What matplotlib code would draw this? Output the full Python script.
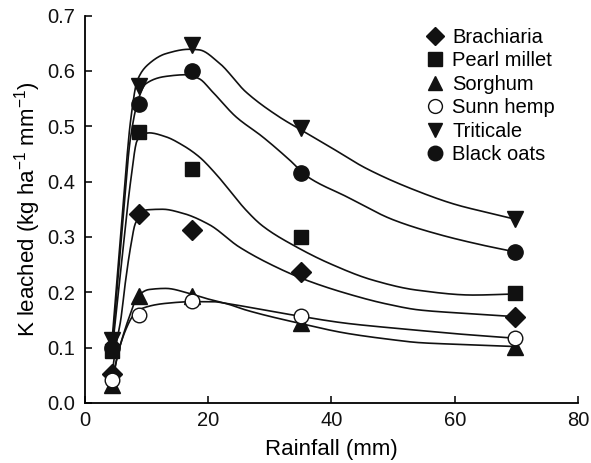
import numpy as np
import matplotlib
matplotlib.use('Agg')
import matplotlib.pyplot as plt
from matplotlib.ticker import FormatStrFormatter

plt.rcParams['font.family'] = ['Liberation Sans', 'DejaVu Sans']
plt.rcParams['mathtext.default'] = 'regular'

# measured points
rain = [4.4, 8.7, 17.3, 35.0, 69.8]
names = ['Brachiaria', 'Pearl millet', 'Sorghum', 'Sunn hemp', 'Triticale', 'Black oats']
brachiaria = [0.052, 0.342, 0.312, 0.236, 0.156]
pearl_millet = [0.094, 0.489, 0.422, 0.300, 0.198]
sorghum = [0.033, 0.193, 0.193, 0.145, 0.102]
sunn_hemp = [0.042, 0.159, 0.184, 0.157, 0.117]
triticale = [0.114, 0.573, 0.647, 0.496, 0.333]
black_oats = [0.100, 0.541, 0.600, 0.415, 0.273]

# fitted curves
brachiaria_cx = [4.4, 5.0, 5.8, 6.6, 7.4, 8.2, 10.1, 12.6, 15.8, 20.2, 25.0, 31.5, 35.9, 42.4, 48.9, 54.3, 63.0, 69.8]
brachiaria_cy = [0.052, 0.102, 0.150, 0.222, 0.282, 0.325, 0.349, 0.350, 0.343, 0.322, 0.282, 0.243, 0.222, 0.198, 0.179, 0.168, 0.161, 0.156]
pearl_cx = [4.4, 6.0, 7.4, 8.5, 10.4, 13.1, 15.8, 18.5, 21.3, 23.4, 26.0, 28.8, 34.3, 39.7, 46.7, 53.8, 63.0, 69.8]
pearl_cy = [0.094, 0.26, 0.40, 0.475, 0.488, 0.481, 0.466, 0.445, 0.413, 0.385, 0.350, 0.320, 0.282, 0.252, 0.222, 0.204, 0.195, 0.197]
sorghum_cx = [4.4, 5.25, 6.3, 7.4, 8.5, 10.4, 13.1, 16.9, 19.6, 23.4, 26.1, 34.8, 42.4, 49.4, 54.3, 60.3, 69.8]
sorghum_cy = [0.033, 0.084, 0.126, 0.162, 0.192, 0.205, 0.207, 0.198, 0.189, 0.178, 0.168, 0.144, 0.126, 0.115, 0.109, 0.106, 0.102]
sunn_cx = [4.4, 5.5, 6.6, 7.7, 9.3, 13.1, 17.4, 20.7, 23.4, 26.1, 33.7, 42.4, 49.4, 54.3, 60.3, 69.8]
sunn_cy = [0.042, 0.096, 0.132, 0.156, 0.171, 0.180, 0.183, 0.183, 0.179, 0.174, 0.159, 0.144, 0.136, 0.131, 0.125, 0.117]
triticale_cx = [4.4, 6.0, 7.4, 8.5, 10.4, 13.1, 16.9, 18.5, 21.8, 26.1, 31.5, 35.1, 39.7, 45.6, 53.2, 60.3, 65.7, 69.8]
triticale_cy = [0.114, 0.33, 0.51, 0.583, 0.613, 0.631, 0.639, 0.638, 0.614, 0.562, 0.517, 0.493, 0.463, 0.424, 0.386, 0.358, 0.343, 0.332]
oats_cx = [4.4, 6.0, 7.4, 8.7, 9.9, 13.1, 16.4, 18.5, 20.7, 24.5, 28.8, 33.2, 36.1, 42.4, 50.0, 57.6, 64.6, 69.8]
oats_cy = [0.100, 0.31, 0.48, 0.55, 0.577, 0.590, 0.593, 0.586, 0.562, 0.517, 0.481, 0.439, 0.409, 0.373, 0.331, 0.304, 0.285, 0.273]


def pchip(x, y, xs):
    # monotone cubic (Fritsch-Carlson) so the curve doesn't overshoot
    x = np.asarray(x, float)
    y = np.asarray(y, float)
    h = np.diff(x)
    d = np.diff(y) / h
    m = np.zeros_like(y)
    for k in range(1, len(x) - 1):
        if d[k - 1] * d[k] > 0:
            w1 = 2 * h[k] + h[k - 1]
            w2 = h[k] + 2 * h[k - 1]
            m[k] = (w1 + w2) / (w1 / d[k - 1] + w2 / d[k])
    m[0] = d[0]
    m[-1] = d[-1]
    idx = np.clip(np.searchsorted(x, xs) - 1, 0, len(h) - 1)
    t = (xs - x[idx]) / h[idx]
    h00 = 2 * t**3 - 3 * t**2 + 1
    h10 = t**3 - 2 * t**2 + t
    h01 = -2 * t**3 + 3 * t**2
    h11 = t**3 - t**2
    return h00 * y[idx] + h10 * h[idx] * m[idx] + h01 * y[idx + 1] + h11 * h[idx] * m[idx + 1]


fig = plt.figure(figsize=(5.91, 4.63), dpi=100)
ax = fig.add_axes([0.1438, 0.1296, 0.8342, 0.8369])

curves = [(brachiaria_cx, brachiaria_cy), (pearl_cx, pearl_cy), (sorghum_cx, sorghum_cy),
          (sunn_cx, sunn_cy), (triticale_cx, triticale_cy), (oats_cx, oats_cy)]
for cx, cy in curves:
    xs = np.linspace(cx[0], cx[-1], 400)
    ax.plot(xs, pchip(cx, cy, xs), color='#111111', lw=1.2, zorder=2)

series = [brachiaria, pearl_millet, sorghum, sunn_hemp, triticale, black_oats]
markers = ['D', 's', '^', 'o', 'v', 'o']
sizes = [10, 10.5, 11, 10.5, 11, 11]
faces = ['#111111', '#111111', '#111111', 'white', '#111111', '#111111']
handles = []
for vals, name, mk, ms, fc in zip(series, names, markers, sizes, faces):
    h, = ax.plot(rain, vals, linestyle='none', marker=mk, ms=ms, mfc=fc,
                 mec='#111111', mew=1.0, label=name, zorder=3)
    handles.append(h)

ax.set_xlim(0, 80)
ax.set_ylim(0, 0.7)
ax.set_xticks([0, 20, 40, 60, 80])
ax.set_yticks(np.arange(0, 0.71, 0.1))
ax.yaxis.set_major_formatter(FormatStrFormatter('%.1f'))
ax.spines['top'].set_visible(False)
ax.spines['right'].set_visible(False)
for s in ['left', 'bottom']:
    ax.spines[s].set_linewidth(1.3)
ax.tick_params(direction='in', length=5, width=1.2, labelsize=14.5, colors='#111111', pad=7)
ax.tick_params(axis='x', pad=6)

ax.set_xlabel('Rainfall (mm)', fontsize=16, labelpad=6)
ax.set_ylabel('K leached (kg ha$^{-1}$ mm$^{-1}$)', fontsize=16, labelpad=3)

leg = ax.legend(handles=handles, loc='upper left', bbox_to_anchor=(427 / 591, 1 - 28 / 463),
                bbox_transform=fig.transFigure, frameon=False, fontsize=14.5,
                handlelength=0.8, handletextpad=0.45, labelspacing=0.22, borderpad=0,
                borderaxespad=0, markerscale=0.95)

fig.savefig('out.png', dpi=100)
